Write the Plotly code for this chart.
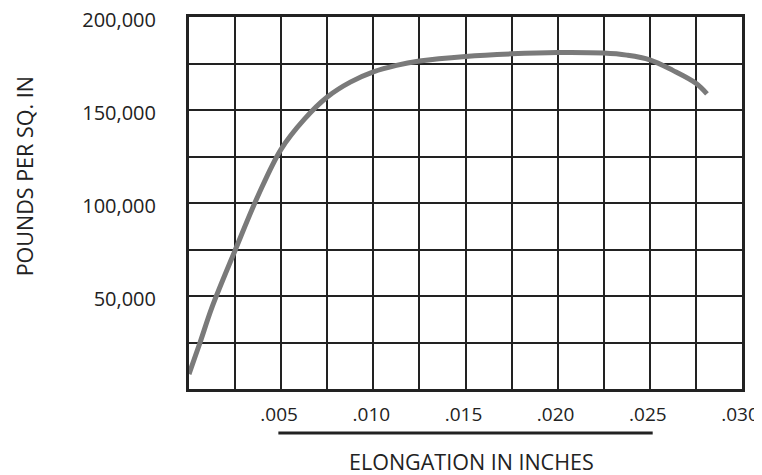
import plotly.graph_objects as go

elongation = [0.0, 0.0006, 0.00125, 0.0025, 0.00375, 0.005, 0.00625, 0.0075, 0.00875, 0.010,
              0.01125, 0.0125, 0.015, 0.0175, 0.020, 0.0225, 0.02375, 0.025, 0.02625,
              0.0275, 0.0281]
pounds = [8000, 25000, 44000, 74500, 104000, 129000, 145000, 157000, 165000, 170500,
          174000, 176300, 178800, 180200, 180900, 180600, 179500, 177000, 171300,
          164400, 158700]

x_tick_vals = [0, 0.0025, 0.005, 0.0075, 0.010, 0.0125, 0.015, 0.0175, 0.020, 0.0225, 0.025, 0.0275, 0.030]
x_tick_text = ["", "", ".005", "", ".010", "", ".015", "", ".020", "", ".025", "", ".030"]
y_tick_vals = [0, 25000, 50000, 75000, 100000, 125000, 150000, 175000, 200000]
y_tick_text = ["", "", "50,000", "", "100,000", "", "150,000", "", "200,000"]

x_title = "ELONGATION IN INCHES"
y_title = "POUNDS PER SQ. IN"

INK = "#222222"
FONT = "Open Sans"

fig = go.Figure()
fig.add_trace(go.Scatter(
    x=elongation, y=pounds, mode="lines",
    line=dict(color="#7a7a7a", width=5, shape="spline", smoothing=1.0),
    hoverinfo="skip", showlegend=False,
))

# page body has an 8px default margin; margins are offset so the plot lands where the reference has it
fig.update_layout(
    width=762, height=467,
    margin=dict(l=180.5, r=27.5, t=9, b=86),
    paper_bgcolor="white", plot_bgcolor="white",
    font=dict(family=FONT, color=INK, size=20),
    xaxis=dict(
        range=[0, 0.030], tickvals=x_tick_vals, ticktext=x_tick_text,
        showgrid=True, gridcolor=INK, gridwidth=2, zeroline=False,
        showline=True, linecolor=INK, linewidth=3, mirror=True,
        ticks="", ticklabelstandoff=6, ticklabelshift=-2,
        automargin=False, ticklabeloverflow="allow",
        tickfont=dict(family=FONT, size=19, color=INK),
    ),
    yaxis=dict(
        range=[0, 200000], tickvals=y_tick_vals, ticktext=y_tick_text,
        showgrid=True, gridcolor=INK, gridwidth=2, zeroline=False,
        showline=True, linecolor=INK, linewidth=3, mirror=True,
        ticks="", ticklabelstandoff=26, ticklabelshift=3,
        automargin=False, ticklabeloverflow="allow",
        tickfont=dict(family=FONT, size=20, color=INK),
    ),
    shapes=[dict(type="line", xref="paper", yref="paper",
                 x0=0.1616, x1=0.8385, y0=-0.118, y1=-0.118,
                 line=dict(color=INK, width=3))],
    annotations=[
        dict(text=x_title, xref="paper", yref="paper", x=0.511, y=-0.196,
             xanchor="center", yanchor="middle", showarrow=False,
             font=dict(family=FONT, size=21.5, color=INK)),
        dict(text=y_title, xref="paper", yref="paper", x=-0.297, y=0.571,
             xanchor="center", yanchor="middle", textangle=-90, showarrow=False,
             font=dict(family=FONT, size=21.5, color=INK)),
    ],
)

fig.write_html("out.html")
